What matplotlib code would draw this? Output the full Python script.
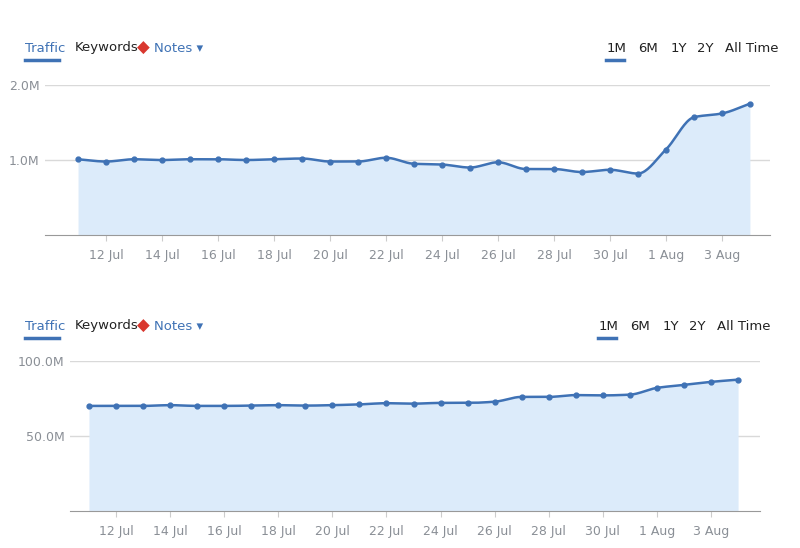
import numpy as np
import matplotlib.pyplot as plt
from matplotlib.lines import Line2D

days = ["11 Jul", "12 Jul", "13 Jul", "14 Jul", "15 Jul", "16 Jul", "17 Jul", "18 Jul",
        "19 Jul", "20 Jul", "21 Jul", "22 Jul", "23 Jul", "24 Jul", "25 Jul", "26 Jul",
        "27 Jul", "28 Jul", "29 Jul", "30 Jul", "31 Jul", "1 Aug", "2 Aug", "3 Aug", "4 Aug"]
traffic_top = [1.01, 0.98, 1.01, 1.00, 1.01, 1.01, 1.00, 1.01, 1.02, 0.98, 0.98, 1.03, 0.95,
               0.94, 0.90, 0.97, 0.88, 0.88, 0.84, 0.87, 0.82, 1.14, 1.57, 1.62, 1.75]  # millions
traffic_bottom = [70.0, 70.0, 70.0, 70.5, 70.0, 70.0, 70.2, 70.5, 70.2, 70.5, 71.0, 71.8, 71.5,
                  72.0, 72.0, 72.8, 76.0, 76.0, 77.2, 77.0, 77.5, 82.0, 84.0, 86.0, 87.5]  # millions

BLUE = "#3f72b5"
FILL = "#dcebfa"
GRID = "#d9d9d9"
GRAY = "#8a8f96"


def smooth(x, y, n=20):
    # monotone cubic (Fritsch-Carlson) just for drawing the curve between points
    x = np.asarray(x, float); y = np.asarray(y, float)
    h = np.diff(x); d = np.diff(y) / h
    m = np.zeros_like(y)
    m[0], m[-1] = d[0], d[-1]
    for i in range(1, len(y) - 1):
        m[i] = 0 if d[i - 1] * d[i] <= 0 else 2 / (1 / d[i - 1] + 1 / d[i])
    xs, ys = [], []
    for i in range(len(h)):
        t = np.linspace(0, 1, n, endpoint=False)
        h00 = 2*t**3 - 3*t**2 + 1; h10 = t**3 - 2*t**2 + t
        h01 = -2*t**3 + 3*t**2; h11 = t**3 - t**2
        xs.append(x[i] + t * h[i])
        ys.append(h00*y[i] + h10*h[i]*m[i] + h01*y[i+1] + h11*h[i]*m[i+1])
    xs.append([x[-1]]); ys.append([y[-1]])
    return np.concatenate(xs), np.concatenate(ys)


def panel(rect, values, ymax, ylabels, xlim):
    ax = fig.add_axes(rect)
    x = np.arange(len(values))
    sx, sy = smooth(x, values)
    ax.fill_between(sx, sy, 0, color=FILL, lw=0)
    ax.plot(sx, sy, color=BLUE, lw=1.8)
    ax.plot(x, values, "o", color=BLUE, ms=3.5)
    ax.set_xlim(*xlim)
    ax.set_ylim(0, ymax)
    ax.set_yticks([ymax / 2, ymax])
    ax.set_yticklabels(ylabels)
    ax.grid(axis="y", color=GRID, lw=1)
    ax.set_axisbelow(True)
    ax.set_xticks(x[1::2])
    ax.set_xticklabels(days[1::2])
    for s in ["top", "right", "left"]:
        ax.spines[s].set_visible(False)
    ax.spines["bottom"].set_color("#999999")
    ax.tick_params(axis="y", length=0, labelsize=9, labelcolor=GRAY, pad=4)
    ax.tick_params(axis="x", length=4, color="#cccccc", labelsize=9, labelcolor=GRAY, pad=6)
    return ax


def header(y, x0, x_right):
    fig.text(x0, y, "Traffic", color=BLUE, fontsize=9.5, va="center")
    fig.add_artist(Line2D([x0, x0 + 0.043], [y - 0.022, y - 0.022], color=BLUE, lw=2.5))
    fig.text(x0 + 0.062, y, "Keywords", color="#222222", fontsize=9.5, va="center")
    fig.text(x0 + 0.14, y, "\u25c6", color="#d9382f", fontsize=12, va="center")
    fig.text(x0 + 0.161, y, "Notes \u25be", color=BLUE, fontsize=9.5, va="center")
    labels = ["1M", "6M", "1Y", "2Y", "All Time"]
    offs = [0, 0.04, 0.08, 0.113, 0.148]
    for lab, o in zip(labels, offs):
        fig.text(x_right + o, y, lab, color="#222222", fontsize=9.5, va="center")
    fig.add_artist(Line2D([x_right, x_right + 0.022], [y - 0.022, y - 0.022], color=BLUE, lw=2.5))


fig = plt.figure(figsize=(8, 5.48), dpi=100)
panel([0.05625, 0.571, 0.906, 0.274], traffic_top, 2.0, ["1.0M", "2.0M"], (-1.18, 24.71))
panel([0.0875, 0.0675, 0.8625, 0.274], traffic_bottom, 100.0, ["50.0M", "100.0M"], (-0.70, 24.81))
header(1 - 48 / 548, 0.031, 0.758)
header(1 - 326 / 548, 0.031, 0.748)
fig.savefig("out.png", dpi=100)
